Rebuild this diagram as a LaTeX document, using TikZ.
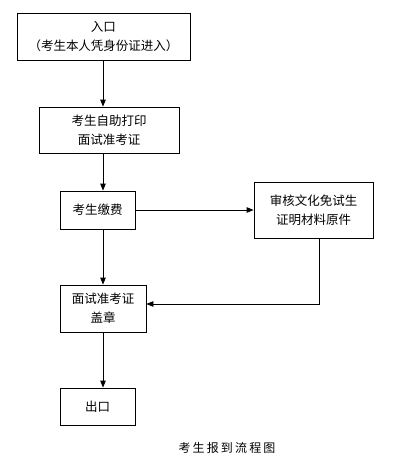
\documentclass[tikz,border=0pt]{standalone}
\usepackage{fontspec}
\newfontfamily\cjk{Noto Sans CJK SC}
\newfontfamily\cjkcap[LetterSpace=18]{Noto Sans CJK SC}
\usetikzlibrary{arrows.meta}
\begin{document}
\begin{tikzpicture}[x=1pt,y=-1pt,
  box/.style={draw=black,line width=0.8pt,rectangle,inner sep=0pt,align=center,
    font=\cjk\fontsize{12.5}{19}\selectfont},
  link/.style={draw=black,line width=0.8pt,-{Triangle[length=7pt,width=5.5pt]}}]
\useasboundingbox[fill=white] (0,0) rectangle (411,472);
\node[box,minimum width=173pt,minimum height=47pt] (b1) at (103.5,36.5) {入口\\（考生本人凭身份证进入）};
\node[box,minimum width=140pt,minimum height=46pt] (b2) at (109,130) {考生自助打印\\面试准考证};
\node[box,minimum width=75pt,minimum height=38pt] (b3) at (97.5,210) {考生缴费};
\node[box,minimum width=119pt,minimum height=56pt] (b4) at (313.5,210) {审核文化免试生\\证明材料原件};
\node[box,minimum width=86pt,minimum height=47pt] (b5) at (103,308.5) {面试准考证\\盖章};
\node[box,minimum width=75pt,minimum height=37pt] (b6) at (97.5,406.5) {出口};
\node[font=\cjkcap\fontsize{12}{14}\selectfont] (cap) at (227,448) {考生报到流程图};
\coordinate (axis) at (103,0);
\coordinate (c4) at (319,304);
\draw[link] (b1.south -| axis) -- (b2.north -| axis);
\draw[link] (b2.south -| axis) -- (b3.north -| axis);
\draw[link] (b3.east) -- (b4.west);
\draw[link] (b3.south -| axis) -- (b5.north -| axis);
\draw[link] (b4.south -| c4) -- (c4) -- (c4 -| b5.east);
\draw[link] (b5.south -| axis) -- (b6.north -| axis);
\end{tikzpicture}
\end{document}
